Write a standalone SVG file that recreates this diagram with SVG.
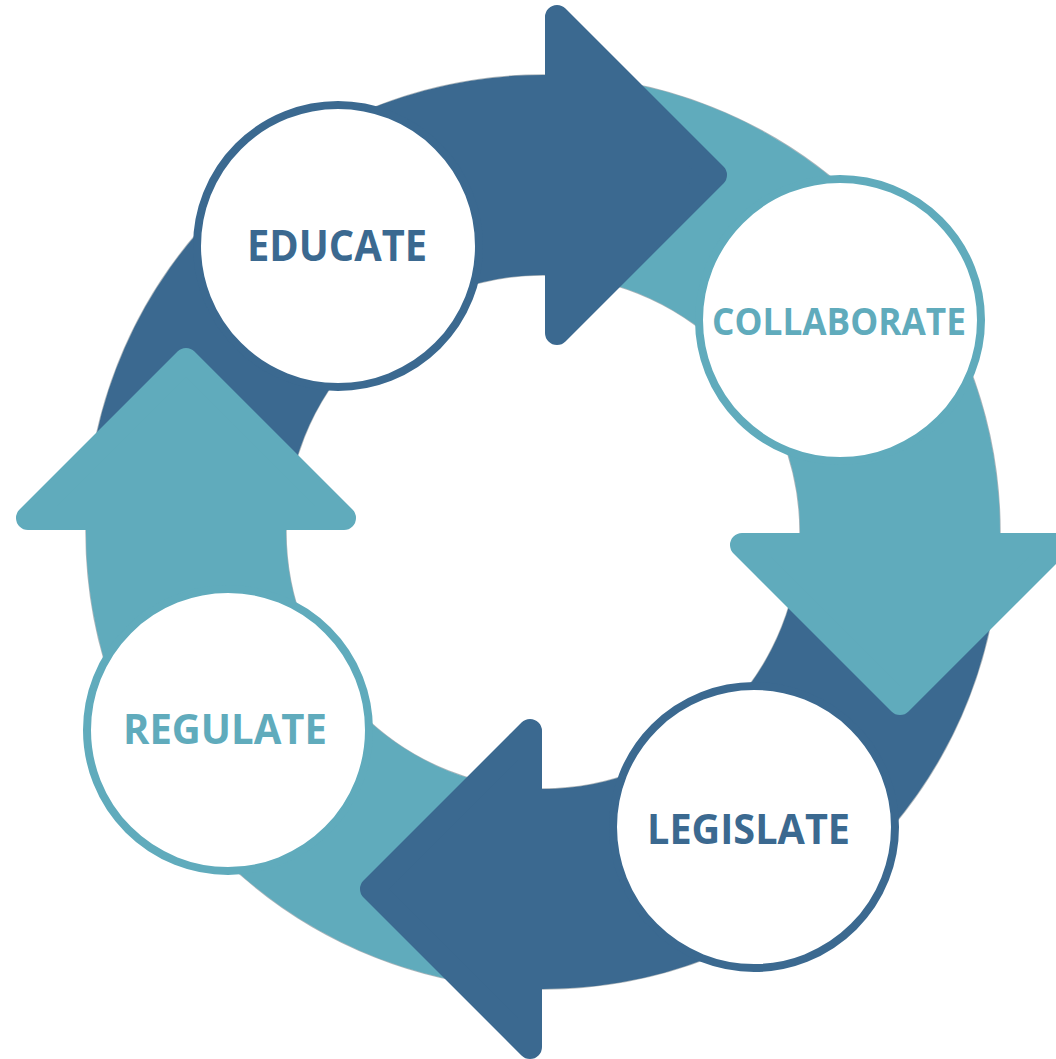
<svg xmlns="http://www.w3.org/2000/svg" width="1056" height="1059" viewBox="0 0 1056 1059">
  <style>
    .dark { fill: #3B6990; }
    .teal { fill: #60ABBC; }
    .head { stroke-width: 24; stroke-linejoin: round; }
    .head.dark { stroke: #3B6990; }
    .head.teal { stroke: #60ABBC; }
    .edge { fill: none; stroke: #6a7a84; stroke-width: 1.4; opacity: 0.55; }
    .node { fill: #FFFFFF; stroke-width: 8; }
    .node.dark { stroke: #3B6990; fill: #FFFFFF; }
    .node.teal { stroke: #60ABBC; fill: #FFFFFF; }
    .label { font-family: "Open Sans", "Noto Sans", "Liberation Sans", sans-serif; font-weight: 700; text-anchor: middle; }
    .label.dark { fill: #3B6990; }
    .label.teal { fill: #60ABBC; }
  </style>
  <rect width="1056" height="1059" fill="#FFFFFF"/>
  <g id="connectors">
    <circle class="edge" cx="543" cy="532" r="457"/>
    <circle class="edge" cx="543" cy="532" r="257"/>
    <path class="dark" d="M86.1,524 A457,457 0 0 1 560,75.3 L560,275.6 A257,257 0 0 0 286.1,524 Z"/>
    <path class="teal" d="M550,75.05 A457,457 0 0 1 999.8,545 L799.7,545 A257,257 0 0 0 550,275.1 Z"/>
    <path class="dark" d="M999.9,540 A457,457 0 0 1 530,988.8 L530,788.7 A257,257 0 0 0 799.9,540 Z"/>
    <path class="teal" d="M535,988.9 A457,457 0 0 1 86.2,518 L286.4,518 A257,257 0 0 0 535,788.9 Z"/>
    <polygon class="head dark" points="557,17 557,333 715,175"/>
    <polygon class="head teal" points="742,545 1058,545 900,703"/>
    <polygon class="head dark" points="530,731 530,1047 372,889"/>
    <polygon class="head teal" points="28,518 344,518 186,360"/>
  </g>
  <g id="node-educate">
    <circle class="node dark" cx="338" cy="246" r="141"/>
    <text class="label dark" x="337" y="261" font-size="43" textLength="180" lengthAdjust="spacingAndGlyphs">EDUCATE</text>
  </g>
  <g id="node-collaborate">
    <circle class="node teal" cx="840" cy="320" r="141"/>
    <text class="label teal" x="839" y="335" font-size="38" textLength="254" lengthAdjust="spacingAndGlyphs">COLLABORATE</text>
  </g>
  <g id="node-legislate">
    <circle class="node dark" cx="754" cy="827" r="141"/>
    <text class="label dark" x="748.5" y="844" font-size="41" textLength="203" lengthAdjust="spacingAndGlyphs">LEGISLATE</text>
  </g>
  <g id="node-regulate">
    <circle class="node teal" cx="228" cy="730" r="141"/>
    <text class="label teal" x="225" y="744" font-size="42" textLength="204" lengthAdjust="spacingAndGlyphs">REGULATE</text>
  </g>
</svg>
